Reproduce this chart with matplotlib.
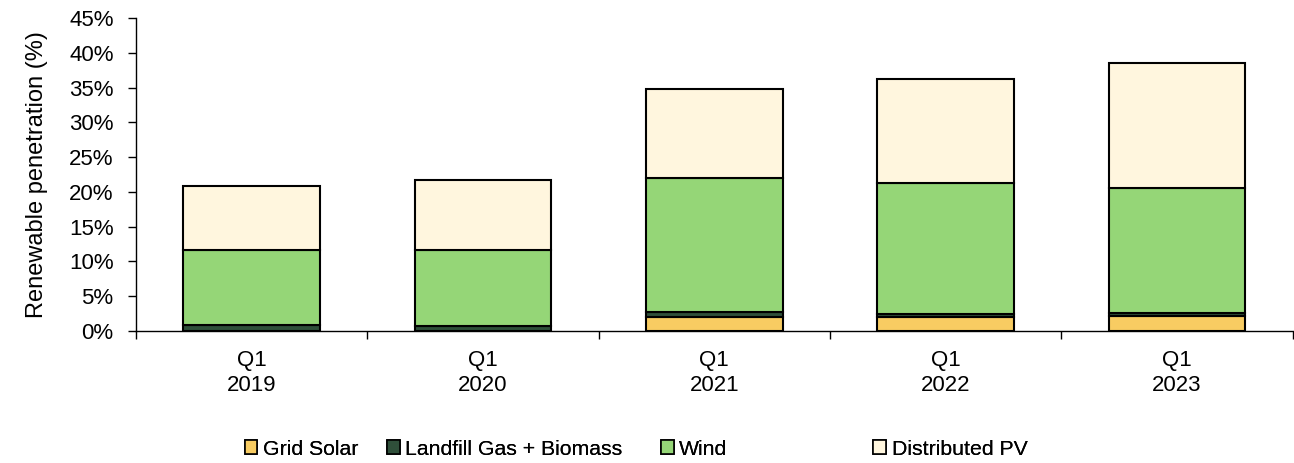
import numpy as np
import matplotlib.pyplot as plt
from matplotlib.patches import Patch
from matplotlib.ticker import FuncFormatter, FixedLocator

plt.rcParams['font.family'] = ['Liberation Sans', 'DejaVu Sans']

quarters = ["Q1\n2019", "Q1\n2020", "Q1\n2021", "Q1\n2022", "Q1\n2023"]
series = ["Grid Solar", "Landfill Gas + Biomass", "Wind", "Distributed PV"]
grid_solar = [0.0, 0.0, 2.0, 2.0, 2.1]
landfill = [0.8, 0.7, 0.7, 0.5, 0.5]
wind = [10.9, 10.9, 19.3, 18.8, 17.9]
dist_pv = [9.1, 10.1, 12.8, 14.9, 18.0]
colors = ["#f8cc62", "#2f4f3a", "#95d677", "#fff6de"]

fig = plt.figure(figsize=(12.94, 4.63), dpi=100)
ax = fig.add_axes([0.105, 0.285, 0.894, 0.676])

x = np.arange(len(quarters))
bottom = np.zeros(len(quarters))
for name, vals, c in zip(series, [grid_solar, landfill, wind, dist_pv], colors):
    ax.bar(x, vals, bottom=bottom, width=0.59, color=c, edgecolor="black",
           linewidth=1.5, label=name)
    bottom += np.array(vals)

ax.set_xlim(-0.5, len(quarters) - 0.5)
ax.set_ylim(0, 45)
ax.set_yticks(np.arange(0, 46, 5))
ax.yaxis.set_major_formatter(FuncFormatter(lambda v, p: f"{v:.0f}%"))
ax.set_xticks(x)
ax.set_xticklabels(quarters, fontsize=16, linespacing=1.2)
ax.xaxis.set_minor_locator(FixedLocator(np.arange(-0.5, len(quarters), 1.0)))
ax.tick_params(axis="x", which="major", length=0, pad=14)
ax.tick_params(axis="x", which="minor", length=6, width=1, direction="out")
ax.tick_params(axis="y", labelsize=16, length=6, width=1, direction="out", pad=10)
ax.set_ylabel("Renewable penetration (%)", fontsize=17, labelpad=15)

for s in ["top", "right"]:
    ax.spines[s].set_visible(False)
for s in ["left", "bottom"]:
    ax.spines[s].set_linewidth(1)

# legend entries placed one by one along the bottom
legend_x = [0.189, 0.299, 0.511, 0.675]
for name, c, lx in zip(series, colors, legend_x):
    h = Patch(facecolor=c, edgecolor="black", linewidth=1.2)
    leg = fig.legend([h], [name], loc="center left", bbox_to_anchor=(lx, 0.03),
                     frameon=False, fontsize=15.3, handlelength=0.6,
                     handleheight=0.6, handletextpad=0.25, borderpad=0,
                     borderaxespad=0)
    fig.add_artist(leg)

fig.savefig("out.png", dpi=100)
